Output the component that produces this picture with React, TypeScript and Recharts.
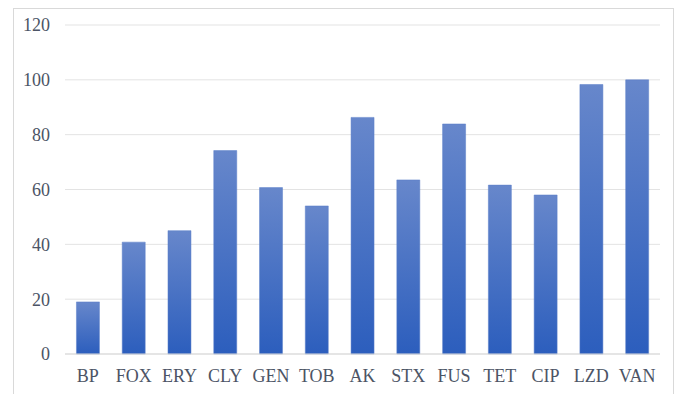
import { BarChart, Bar, XAxis, YAxis, CartesianGrid } from 'recharts';

const drugs = ['BP', 'FOX', 'ERY', 'CLY', 'GEN', 'TOB', 'AK', 'STX', 'FUS', 'TET', 'CIP', 'LZD', 'VAN'];
const rates = [19, 40.8, 45, 74.2, 60.7, 54, 86.3, 63.5, 83.9, 61.6, 58, 98.3, 100];
const yTicks = [0, 20, 40, 60, 80, 100, 120];

const chartData = drugs.map((name, i) => ({ name, value: rates[i] }));

const tickStyle = { fontSize: 18, fill: '#4c5465', fontFamily: '"Liberation Serif", "Times New Roman", serif' };

export default function App() {
  return (
    <div style={{ position: 'absolute', left: 0, top: 0, width: 681, height: 394, background: '#fff', overflow: 'hidden' }}>
      {/* outer frame, runs past the bottom edge like the source */}
      <div
        style={{
          position: 'absolute',
          left: 13,
          top: 8,
          width: 661,
          height: 400,
          border: '1px solid #d9d9d9',
          boxSizing: 'border-box',
        }}
      />
      <div style={{ position: 'absolute', left: 0, top: 0 }}>
        <BarChart
          width={681}
          height={394}
          data={chartData}
          margin={{ top: 25, right: 21, left: 0, bottom: 0 }}
          barCategoryGap="25%"
        >
          <defs>
            <linearGradient id="barFill" x1="0" y1="0" x2="0" y2="1">
              <stop offset="0%" stopColor="#6787cb" />
              <stop offset="100%" stopColor="#2c5ebd" />
            </linearGradient>
          </defs>
          <CartesianGrid vertical={false} stroke="#e3e3e3" />
          <XAxis
            dataKey="name"
            height={40}
            tick={tickStyle}
            tickLine={false}
            tickSize={0}
            tickMargin={15}
            axisLine={{ stroke: '#d9d9d9' }}
            interval={0}
          />
          <YAxis
            width={65}
            domain={[0, 120]}
            ticks={yTicks}
            tick={tickStyle}
            tickLine={false}
            tickSize={0}
            tickMargin={15}
            axisLine={false}
          />
          <Bar dataKey="value" fill="url(#barFill)" stroke="#5a7fc8" strokeWidth={0.5} isAnimationActive={false} />
        </BarChart>
      </div>
    </div>
  );
}
